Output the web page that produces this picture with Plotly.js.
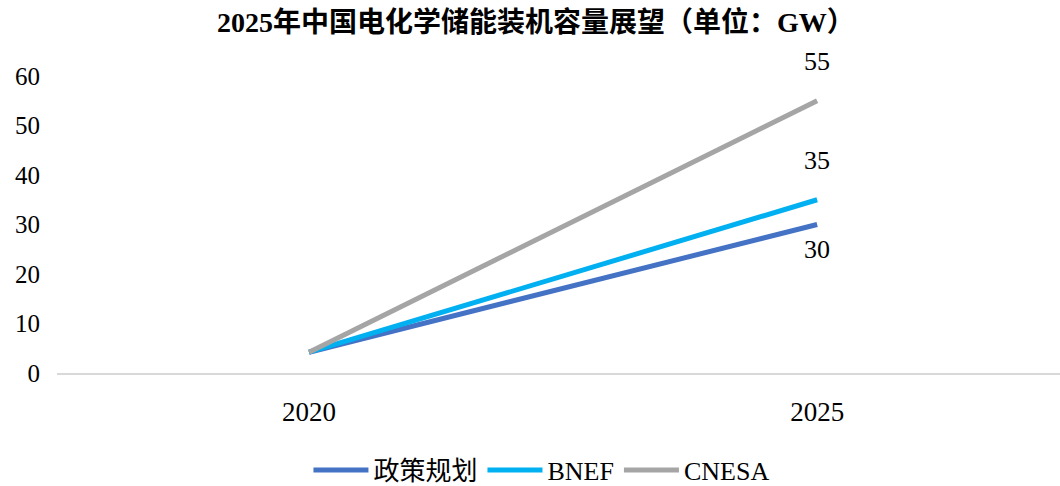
<!DOCTYPE html>
<html>
<head>
<meta charset="utf-8">
<script src="https://cdn.plot.ly/plotly-3.0.1.min.js"></script>
<style>html,body{margin:0;padding:0;background:#fff;}#chart{width:1060px;height:486px;}</style>
</head>
<body>
<div id="chart"></div>
<script>
var years = ['2020', '2025'];
var policy = [4.2, 30];
var bnef = [4.2, 35];
var cnesa = [4.2, 55];
var seriesNames = ['政策规划', 'BNEF', 'CNESA'];
var seriesColors = ['#4472C4', '#00B0F0', '#A5A5A5'];
var yTicks = [0, 10, 20, 30, 40, 50, 60];

var FONT = '"Liberation Serif", "Times New Roman", "Noto Sans CJK SC", serif';
var seriesData = [policy, bnef, cnesa];

var traces = seriesData.map(function (d, i) {
  return {
    x: years, y: d, name: seriesNames[i], type: 'scatter', mode: 'lines',
    line: {color: seriesColors[i], width: 5},
    hoverinfo: 'none'
  };
});

var shifts = [-25, 39, 39];
var lastIdx = years.length - 1;
var annotations = seriesData.map(function (d, i) {
  return {
    xref: 'x', yref: 'y',
    x: lastIdx, y: d[lastIdx], text: String(d[lastIdx]), showarrow: false,
    xanchor: 'center', yanchor: 'middle',
    yshift: shifts[i], font: {family: FONT, size: 26, color: '#000'}
  };
});
annotations.push({
  xref: 'paper', yref: 'paper', x: 0.478, y: 1, yshift: 54, showarrow: false,
  xanchor: 'center', yanchor: 'middle',
  text: '<b>2025年中国电化学储能装机容量展望（单位：GW）</b>',
  font: {family: FONT, size: 28, color: '#000'}
});

var layout = {
  width: 1060, height: 486,
  margin: {l: 57, r: 0, t: 76, b: 113, autoexpand: false},
  paper_bgcolor: '#fff', plot_bgcolor: '#fff',
  showlegend: true,
  legend: {orientation: 'h', x: 0.483, xanchor: 'center', y: -0.327, yanchor: 'middle',
    font: {family: FONT, size: 26, color: '#000'}, itemwidth: 55, tracegroupgap: 0},
  xaxis: {type: 'category', range: [-0.496, 1.478], showgrid: false, zeroline: false,
    showline: true, linecolor: '#D9D9D9', linewidth: 1.5, ticks: '',
    tickfont: {family: FONT, size: 27, color: '#000'}, ticklabelstandoff: 14},
  yaxis: {range: [0, 60], tickvals: yTicks, showgrid: false, zeroline: false, showline: false,
    ticks: '', tickfont: {family: FONT, size: 25, color: '#000'}, ticklabelstandoff: 16},
  annotations: annotations
};

Plotly.newPlot('chart', traces, layout, {displayModeBar: false, staticPlot: true});
</script>
</body>
</html>
